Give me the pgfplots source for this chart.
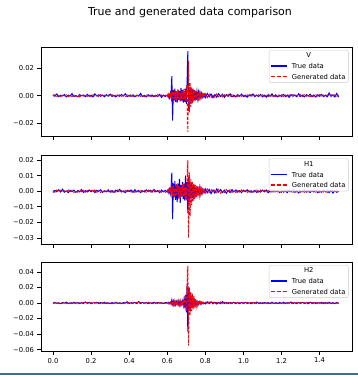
\documentclass[border=0pt]{standalone}
\usepackage{pgfplots}
\pgfplotsset{compat=1.18}
\usepackage{pgfplotstable}
\usepackage{fontspec}
\setmainfont{DejaVu Sans}

% values in units of 1e-3
\pgfplotstableread{
x vt vg ht hg zt zg
0.00 0.6 -0.3 -0.8 0.4 -0.5 0.3
0.01 -0.4 0.7 0.5 -0.6 0.8 -0.2
0.02 1.2 -0.5 -0.3 0.8 -0.4 0.6
0.03 -0.7 0.2 0.9 -0.2 0.3 -0.7
0.04 0.3 -0.8 -0.5 0.6 -0.9 0.4
0.05 -0.2 0.5 1.3 -0.7 0.6 -0.3
0.06 0.8 -0.1 -0.6 0.3 -0.2 0.9
0.07 -0.9 0.6 0.2 -0.5 1.1 -0.6
0.08 0.4 -0.7 -0.9 0.7 -0.7 0.2
0.09 -0.3 0.3 0.6 -0.4 0.2 -0.8
0.10 1.5 -0.6 -0.2 0.5 -0.5 0.7
0.11 -0.6 0.8 0.7 -0.8 0.9 -0.4
0.12 0.2 -0.4 -0.7 0.2 -0.3 0.5
0.13 -0.8 0.1 0.4 -0.6 0.5 -0.9
0.14 0.7 -0.9 -0.4 0.9 -0.8 0.3
0.15 -0.1 0.5 1.1 -0.3 0.4 -0.5
0.16 0.5 -0.2 -0.8 0.6 -0.6 0.8
0.17 -0.7 0.7 0.3 -0.7 1.4 -0.2
0.18 0.9 -0.5 -0.5 0.4 -0.4 0.6
0.19 -0.4 0.4 0.8 -0.5 0.7 -0.7
0.20 0.3 -0.8 -0.3 0.7 -0.9 0.4
0.21 -0.9 0.6 0.5 -0.2 0.3 -0.6
0.22 1.3 -0.3 -0.9 0.8 -0.2 0.9
0.23 -0.2 0.2 0.6 -0.6 0.8 -0.3
0.24 0.6 -0.7 -0.2 0.3 -0.7 0.5
0.25 -0.5 0.8 1.0 -0.8 0.5 -0.8
0.26 0.4 -0.4 -0.7 0.5 -0.3 0.2
0.27 -0.8 0.3 0.3 -0.4 1.0 -0.5
0.28 0.7 -0.6 -0.4 0.7 -0.6 0.7
0.29 -0.3 0.5 0.9 -0.3 0.2 -0.4
0.30 1.1 -0.2 -0.6 0.6 -0.8 0.6
0.31 -0.6 0.7 0.4 -0.7 0.6 -0.9
0.32 0.2 -0.8 -0.8 0.2 -0.4 0.3
0.33 -0.9 0.4 0.7 -0.5 0.9 -0.2
0.34 0.5 -0.3 -0.3 0.8 -0.5 0.8
0.35 -0.4 0.6 1.2 -0.6 0.3 -0.6
0.36 0.8 -0.5 -0.5 0.4 -0.9 0.4
0.37 -0.2 0.2 0.2 -0.8 0.7 -0.7
0.38 1.4 -0.7 -0.9 0.5 -0.2 0.5
0.39 -0.7 0.5 0.6 -0.2 1.6 -0.3
0.40 0.3 -0.4 -0.2 0.7 -0.6 0.7
0.41 -0.5 0.8 0.8 -0.5 0.4 -0.8
0.42 0.6 -0.6 -0.7 0.3 -0.3 0.3
0.43 -0.8 0.3 1.0 -0.7 0.8 -0.5
0.44 0.4 -0.2 -0.4 0.6 -0.7 0.9
0.45 -0.3 0.7 0.5 -0.4 1.9 -0.4
0.46 1.6 -0.5 -0.8 0.8 -0.5 0.6
0.47 -0.6 0.4 0.3 -0.3 0.6 -0.7
0.48 0.2 -0.8 -0.5 0.5 -0.2 0.2
0.49 -0.9 0.6 0.9 -0.6 0.5 -0.6
0.50 0.7 -0.3 -0.3 0.7 -0.8 0.8
0.51 -0.4 0.5 0.6 -0.8 0.3 -0.3
0.52 0.5 -0.7 -0.6 0.4 -0.6 0.5
0.53 -0.7 0.2 1.1 -0.5 0.9 -0.8
0.54 0.3 -0.6 -0.4 0.6 -0.4 0.4
0.55 -0.5 0.8 0.4 -0.3 0.7 -0.5
0.56 0.9 -0.4 -0.9 0.8 -0.3 0.7
0.57 -1.2 0.5 0.7 -0.6 0.4 -0.4
0.58 0.4 -0.9 -0.3 0.5 -0.7 0.6
0.59 -0.6 0.3 0.5 -0.7 0.5 -0.3
0.600 0.5 -0.6 -0.5 0.7 0.3 -0.5
0.604 -0.8 0.9 0.8 -0.4 -0.6 0.8
0.608 1.0 -1.2 -1.0 1.1 0.8 -0.9
0.612 -1.4 1.5 1.3 -0.8 -0.7 1.1
0.616 1.8 -1.0 -1.6 1.4 1.0 -0.8
0.620 -1.2 2.0 2.2 -1.7 -0.9 1.4
0.624 14 -2.5 12 2.5 4.0 -1.6
0.628 -18 3.0 -18 -3.0 -1.5 2.0
0.632 4.0 -2.0 5.0 3.5 2.5 -2.5
0.636 -3.5 4.5 -4.0 -4.0 -2.0 3.0
0.640 5.0 -3.0 6.5 2.0 1.8 -2.2
0.644 -4.5 2.5 -5.5 -3.5 -2.4 1.5
0.648 3.0 -4.5 3.5 5.0 2.0 -2.8
0.652 -5.0 3.5 -7.0 -2.5 -1.5 2.4
0.656 4.5 -2.0 5.0 4.0 2.6 -1.8
0.660 -3.0 4.0 -4.5 -5.0 -2.0 2.8
0.664 3.5 -3.5 8.0 3.0 1.5 -2.5
0.668 -4.0 2.0 -7.5 -4.5 -2.5 3.0
0.672 5.5 -4.0 4.0 2.5 2.2 -2.0
0.676 -3.5 3.0 -3.5 -3.0 -1.8 2.5
0.680 4.0 -2.5 6.0 4.5 2.5 -3.0
0.684 -5.0 4.5 -5.0 -3.5 -3.0 3.5
0.688 3.0 -3.0 4.5 5.5 5.0 -4.0
0.692 -4.5 5.0 -6.0 -4.0 -6.0 5.0
0.696 5.0 -4.0 10.0 3.0 10.0 8.0
0.700 -6.0 6.0 -5.0 -6.0 -12.0 -10.0
0.704 8.0 8.0 6.0 6.0 25.0 12.0
0.708 32.0 -26.0 -14.0 20.0 -37.0 48.0
0.712 -10.0 25.0 9.0 -30.0 18.0 -55.0
0.716 6.0 -12.0 -7.0 12.0 -10.0 20.0
0.720 -5.0 9.0 6.0 -16.0 12.0 -15.0
0.724 5.5 -8.0 -5.0 8.0 -8.0 14.0
0.728 -4.0 6.0 5.5 -9.0 6.0 -10.0
0.732 4.5 -5.5 -4.5 6.0 -5.0 12.0
0.736 -3.5 5.0 4.0 -6.5 4.0 -8.0
0.740 4.0 -4.0 -5.0 5.0 -3.5 9.0
0.744 -3.0 4.5 3.0 -5.0 3.0 -6.0
0.748 3.5 -3.5 -3.5 4.0 -2.5 5.0
0.752 -2.5 3.0 2.5 -4.0 2.0 -4.0
0.756 3.0 -3.0 -2.0 3.5 -2.0 3.5
0.760 -2.0 2.5 3.0 -3.0 1.8 -3.0
0.764 2.5 -2.0 -2.5 2.5 -1.5 2.5
0.768 -1.5 2.0 2.0 -2.5 1.5 -2.0
0.772 2.0 -1.5 -1.8 2.0 -1.2 1.8
0.776 -1.2 1.5 1.5 -1.8 1.0 -1.5
0.780 1.5 -1.2 -1.2 1.5 -1.0 1.2
0.784 -1.0 1.0 1.0 -1.2 0.8 -1.0
0.788 1.2 -0.9 -0.9 1.0 -0.7 0.9
0.792 -0.8 0.8 0.8 -0.9 0.6 -0.8
0.796 0.9 -0.7 -0.6 0.8 -0.5 0.6
0.80 -1.3 1.2 1.4 -1.1 -1.2 1.0
0.81 1.6 -1.4 -1.0 1.5 1.4 -0.9
0.82 -0.9 1.0 1.2 -0.8 -0.8 1.3
0.83 1.2 -1.3 -1.5 1.2 1.6 -0.7
0.84 -1.5 0.9 0.8 -1.0 -1.0 1.1
0.85 0.8 -1.1 -1.2 0.7 0.9 -1.2
0.86 -1.1 1.3 1.5 -0.9 -1.3 0.8
0.87 1.4 -0.7 -0.6 1.1 0.7 -1.0
0.88 -0.6 1.0 1.1 -1.3 -0.9 1.2
0.89 1.0 -0.9 -0.9 0.6 1.8 -0.6
0.90 -1.2 0.6 0.7 -0.8 -0.5 0.9
0.91 0.7 -0.8 -1.3 1.0 0.8 -0.8
0.92 -0.5 0.9 0.5 -0.6 -0.7 0.5
0.93 1.3 -0.5 -0.8 0.9 0.6 -0.9
0.94 -0.8 0.7 1.0 -0.7 -0.4 0.7
0.95 0.4 -0.8 -0.4 0.5 0.9 -0.4
0.96 -0.9 0.4 0.8 -0.8 -0.6 0.8
0.97 0.8 -0.6 -0.6 0.6 0.4 -0.6
0.98 -0.4 0.7 0.4 -0.5 -0.8 0.5
0.99 1.1 -0.4 -0.9 0.8 0.6 -0.7
1.00 -0.6 0.6 0.6 -0.6 -0.3 0.4
1.01 0.3 -0.7 -0.3 0.4 0.7 -0.8
1.02 -1.0 0.5 0.9 -0.7 -0.5 0.6
1.03 0.6 -0.3 -0.5 0.5 0.3 -0.4
1.04 -0.3 0.8 0.3 -0.8 -0.9 0.7
1.05 1.2 -0.6 -0.7 0.6 0.5 -0.5
1.06 -0.7 0.4 0.5 -0.4 -0.4 0.8
1.07 0.5 -0.8 -0.8 0.7 1.2 -0.6
1.08 -0.5 0.6 0.2 -0.5 -0.6 0.3
1.09 0.9 -0.4 -0.6 0.8 0.4 -0.7
1.10 -0.8 0.7 0.7 -0.3 -0.7 0.5
1.11 0.4 -0.5 -0.4 0.6 0.8 -0.4
1.12 -1.1 0.3 0.8 -0.7 -0.3 0.6
1.13 0.7 -0.7 -1.0 0.4 0.6 -0.8
1.14 -0.4 0.8 0.4 -0.6 -0.8 0.7
1.15 1.3 -0.4 -0.5 0.7 1.0 -0.3
1.16 -0.6 0.5 0.9 -0.5 -0.5 0.5
1.17 0.6 -0.8 -0.3 0.8 0.4 -0.6
1.18 -0.9 0.6 0.6 -0.4 -0.6 0.8
1.19 0.3 -0.3 -0.8 0.5 0.7 -0.5
1.20 -0.5 0.7 0.5 -0.8 -0.4 0.4
1.21 1.0 -0.6 -0.6 0.6 0.9 -0.7
1.22 -0.7 0.4 0.3 -0.3 -0.7 0.6
1.23 0.5 -0.8 -0.9 0.7 0.5 -0.4
1.24 -1.2 0.5 0.7 -0.6 -0.3 0.7
1.25 0.8 -0.4 -0.4 0.4 1.3 -0.6
1.26 -0.4 0.7 0.8 -0.7 -0.6 0.5
1.27 0.6 -0.6 -0.7 0.5 0.4 -0.8
1.28 -0.8 0.3 0.4 -0.4 -0.8 0.6
1.29 1.4 -0.7 -1.1 0.8 0.6 -0.3
1.30 -0.5 0.6 0.6 -0.6 -0.4 0.7
1.31 0.4 -0.5 -0.3 0.3 0.8 -0.5
1.32 -0.9 0.8 0.9 -0.7 -0.5 0.4
1.33 0.7 -0.4 -0.6 0.6 0.3 -0.7
1.34 -0.3 0.6 0.5 -0.5 -0.9 0.8
1.35 1.1 -0.8 -0.8 0.7 1.1 -0.4
1.36 -0.7 0.4 0.3 -0.4 -0.6 0.6
1.37 0.5 -0.6 -0.5 0.8 0.5 -0.6
1.38 -1.0 0.7 0.7 -0.6 -0.7 0.5
1.39 0.6 -0.3 -0.9 0.5 0.4 -0.8
1.40 -0.4 0.8 0.4 -0.7 -0.3 0.7
1.41 0.9 -0.5 -0.6 0.4 0.9 -0.5
1.42 -0.6 0.4 0.8 -0.5 -0.8 0.4
1.43 0.4 -0.7 -0.4 0.6 0.6 -0.6
1.44 -0.8 0.5 0.6 -0.8 -0.4 0.8
1.45 1.9 -0.6 -0.9 0.7 1.0 -0.4
1.46 -0.5 0.7 0.5 -0.4 -0.6 0.6
1.47 0.6 -0.4 -1.2 0.6 0.5 -0.7
1.48 -0.9 0.6 0.3 -0.6 -0.8 0.5
1.49 1.6 -0.5 -0.7 0.8 0.7 -0.3
1.50 -1.1 0.4 0.2 -0.4 -0.5 0.6
}\data

\definecolor{tblue}{RGB}{0,0,255}
\definecolor{gred}{RGB}{255,0,0}
\newcommand{\lfont}{\fontsize{6.8}{7.8}\selectfont}
\newcommand{\tsample}{\textcolor{tblue}{\rule[2pt]{16pt}{1.2pt}}}
\newcommand{\gsample}{\textcolor{gred}{\rule[2pt]{4pt}{1.2pt}\hspace{2pt}\rule[2pt]{4pt}{1.2pt}\hspace{2pt}\rule[2pt]{4pt}{1.2pt}}}
\newcommand{\legbox}[1]{%
  \node[anchor=north east, draw=black!20, fill=white, fill opacity=0.8, text opacity=1,
    rounded corners=2pt, inner sep=0.3pt, font=\lfont, xshift=-3.5pt, yshift=-3pt]
    at (rel axis cs:1,1)
    {\renewcommand{\arraystretch}{1.36}%
     \begin{tabular}{@{\hspace{2pt}}l@{\hspace{4.5pt}}l@{\hspace{2.5pt}}}
       \multicolumn{2}{c}{#1}\\
       \tsample & True data\\
       \gsample & Generated data
     \end{tabular}};}
\pgfplotsset{
  panel/.style={
    scale only axis, width=311pt, height=89pt,
    xmin=-0.063, xmax=1.570,
    axis line style={line width=0.6pt},
    tick align=outside, tick pos=left,
    major tick length=3.5pt,
    every tick/.style={line width=0.6pt},
    tick label style={font=\lfont},
    xtick={0,0.2,0.4,0.6,0.8,1.0,1.2,1.4},
    xticklabels={},
    /pgf/number format/assume math mode=true,
  },
  tru/.style={draw=tblue, line width=1pt},
  gen/.style={draw=gred, line width=1pt, dash pattern=on 3pt off 1.5pt},
}

\begin{document}
\begin{tikzpicture}
\useasboundingbox (0,0) rectangle (358pt,-375pt);
\node[font=\fontsize{11}{13}\selectfont] at (190pt,-12pt) {True and generated data comparison};

\begin{axis}[panel, at={(41pt,-47pt)}, anchor=north west,
  ymin=-29, ymax=35, ytick={-20,0,20},
  yticklabels={−0.02,0.00,0.02}]
\addplot[tru] table[x=x,y=vt]{\data};
\addplot[gen] table[x=x,y=vg]{\data};
\legbox{V}
\end{axis}

\begin{axis}[panel, at={(41pt,-155.5pt)}, anchor=north west,
  ymin=-34.3, ymax=23, ytick={-30,-20,-10,0,10,20},
  yticklabels={−0.03,−0.02,−0.01,0.00,0.01,0.02}]
\addplot[tru] table[x=x,y=ht]{\data};
\addplot[gen] table[x=x,y=hg]{\data};
\legbox{H1}
\end{axis}

\begin{axis}[panel, at={(41pt,-262pt)}, anchor=north west,
  ymin=-61.9, ymax=52.9, ytick={-60,-40,-20,0,20,40},
  yticklabels={−0.06,−0.04,−0.02,0.00,0.02,0.04},
  xticklabels={0.0,0.2,0.4,0.6,0.8,1.0,1.2,1.4}]
\addplot[tru] table[x=x,y=zt]{\data};
\addplot[gen] table[x=x,y=zg]{\data};
\legbox{H2}
\end{axis}

\draw[color={rgb,255:red,16;green,125;blue,193}, line width=1.5pt] (0pt,-374pt) -- (358pt,-374pt);
\end{tikzpicture}
\end{document}
